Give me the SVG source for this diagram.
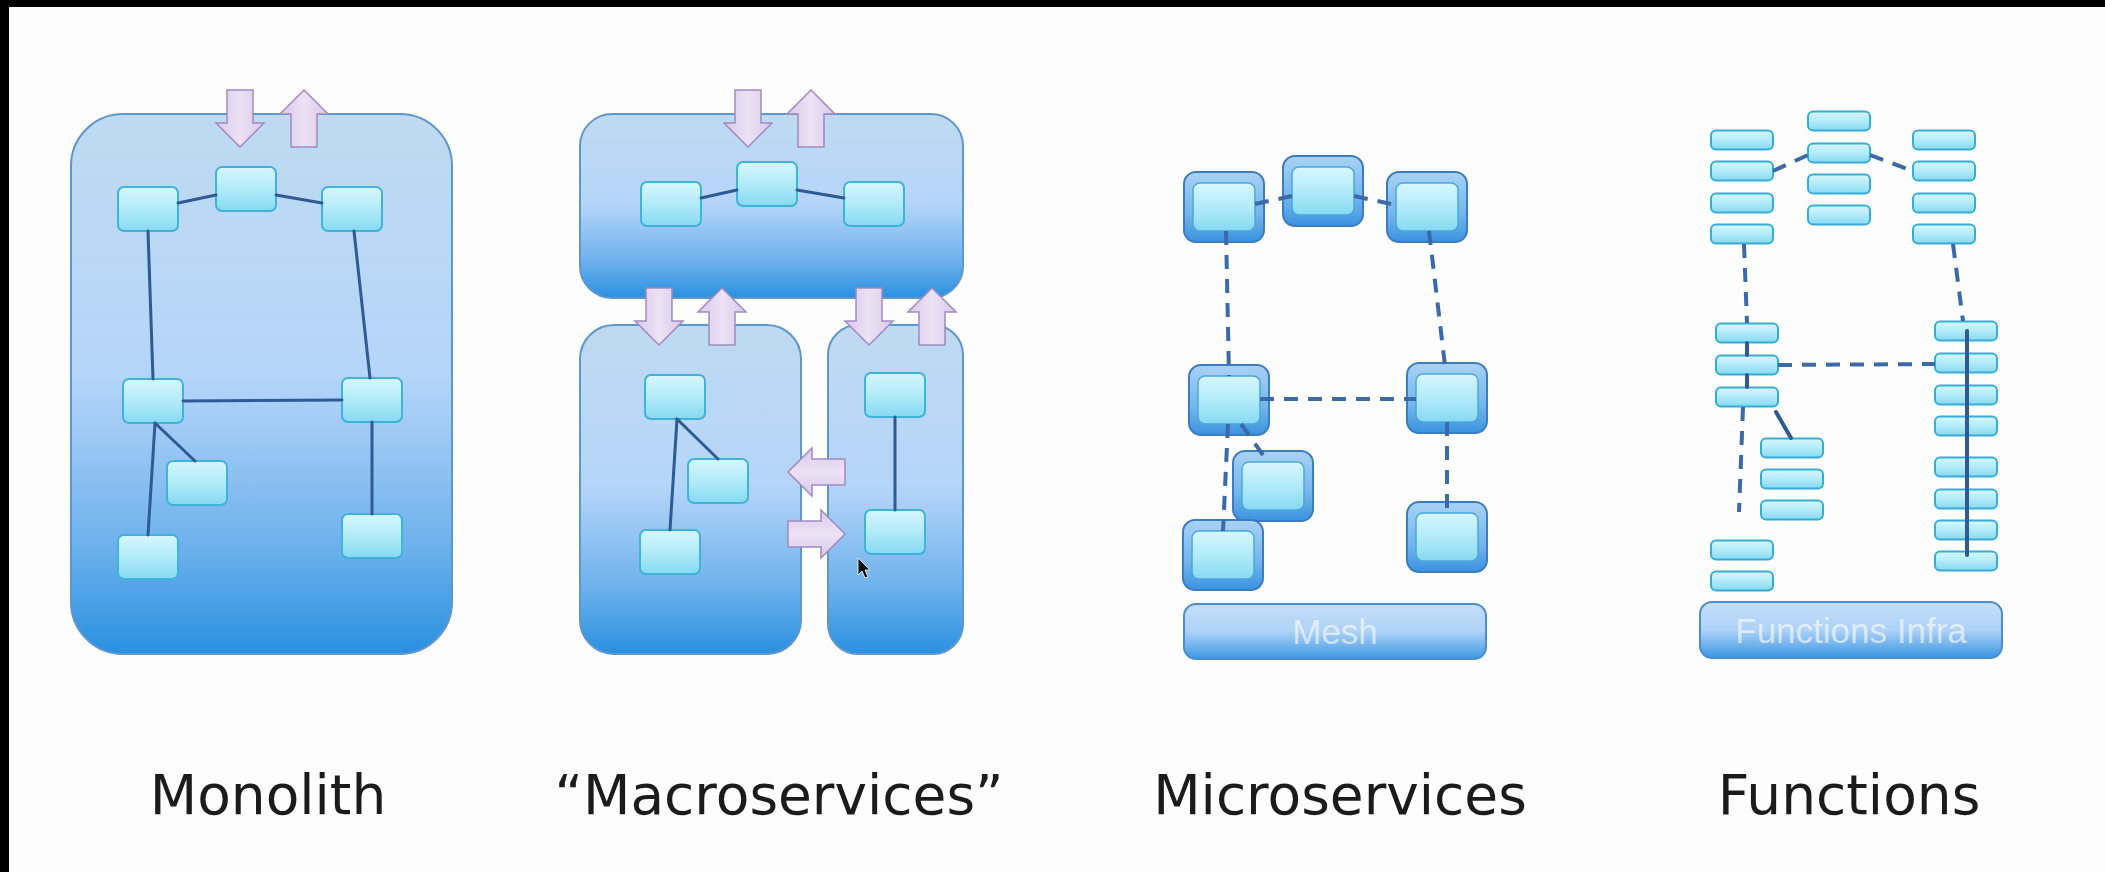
<svg xmlns="http://www.w3.org/2000/svg" xmlns:xlink="http://www.w3.org/1999/xlink" width="2105" height="872" viewBox="0 0 2105 872">
<defs>
  <linearGradient id="gBox" x1="0" y1="0" x2="0" y2="1">
    <stop offset="0" stop-color="#bfdaf1"/>
    <stop offset="0.48" stop-color="#b5d5f9"/>
    <stop offset="0.56" stop-color="#a6cdf6"/>
    <stop offset="0.8" stop-color="#6db1ec"/>
    <stop offset="1" stop-color="#2990e0"/>
  </linearGradient>
  <linearGradient id="gNode" x1="0" y1="0" x2="0" y2="1">
    <stop offset="0" stop-color="#d6f7fd"/>
    <stop offset="0.5" stop-color="#b2ebf9"/>
    <stop offset="1" stop-color="#86d9f2"/>
  </linearGradient>
  <linearGradient id="gOuter" x1="0" y1="0" x2="0" y2="1">
    <stop offset="0" stop-color="#a9d2f4"/>
    <stop offset="0.6" stop-color="#74b5ec"/>
    <stop offset="1" stop-color="#3a92df"/>
  </linearGradient>
  <linearGradient id="gBar" x1="0" y1="0" x2="0" y2="1">
    <stop offset="0" stop-color="#c4def8"/>
    <stop offset="0.5" stop-color="#aed2f8"/>
    <stop offset="1" stop-color="#3a96e2"/>
  </linearGradient>
  <linearGradient id="gArrow" x1="0" y1="0" x2="1" y2="0">
    <stop offset="0" stop-color="#d9c8ea"/>
    <stop offset="0.5" stop-color="#ece2f5"/>
    <stop offset="1" stop-color="#d9c8ea"/>
  </linearGradient>
  <linearGradient id="gArrowH" x1="0" y1="0" x2="0" y2="1">
    <stop offset="0" stop-color="#d9c8ea"/>
    <stop offset="0.5" stop-color="#ece2f5"/>
    <stop offset="1" stop-color="#d9c8ea"/>
  </linearGradient>
  <path id="aDown" d="M-13,0 H13 V33 H24 L0,57 L-24,33 H-13 Z"/>
  <path id="aUp" d="M0,0 L24,24 H13 V57 H-13 V24 H-24 Z"/>
  <path id="aLeft" d="M0,0 L24,-24 V-13 H57 V13 H24 V24 Z"/>
  <path id="aRight" d="M0,-13 H33 V-24 L57,0 L33,24 V13 H0 Z"/>
  <style>
    .box { fill: url(#gBox); stroke: #5f96cc; stroke-width: 2; }
    .node { fill: url(#gNode); stroke: #3fb3da; stroke-width: 2; }
    .outer { fill: url(#gOuter); stroke: #3b7cc2; stroke-width: 2; }
    .inner { fill: url(#gNode); stroke: #4aa8dc; stroke-width: 1.5; }
    .fn { fill: url(#gNode); stroke: #37acd6; stroke-width: 2; }
    .bar { fill: url(#gBar); stroke: #4c8dd0; stroke-width: 2; }
    .bartext { font-family: "Liberation Sans", Arial, sans-serif; font-size: 35px; fill: #ffffff; fill-opacity: 0.6; text-anchor: middle; }
    .arrow { fill: url(#gArrow); stroke: #a08abf; stroke-width: 1.5; }
    .arrowh { fill: url(#gArrowH); stroke: #a08abf; stroke-width: 1.5; }
    .line { stroke: #2f5b95; stroke-width: 3; fill: none; stroke-linecap: round; }
    .dash { stroke: #3b6aab; stroke-width: 4; fill: none; stroke-dasharray: 14 10; }
    .label { font-family: "DejaVu Sans", Verdana, sans-serif; font-size: 55px; fill: #1b1b1b; text-anchor: middle; }
  </style>
</defs>

<rect x="0" y="0" width="2105" height="872" fill="#000000"/>
<rect x="9" y="7" width="2096" height="865" fill="#fdfdfd"/>

<!-- Monolith -->
<g id="monolith-container"><rect class="box" x="71" y="114" width="381" height="540" rx="52"/></g>
<g id="mono-n1"><rect class="node" x="118" y="187" width="60" height="44" rx="6"/></g>
<g id="mono-n2"><rect class="node" x="216" y="167" width="60" height="44" rx="6"/></g>
<g id="mono-n3"><rect class="node" x="322" y="187" width="60" height="44" rx="6"/></g>
<g id="mono-n4"><rect class="node" x="123" y="379" width="60" height="44" rx="6"/></g>
<g id="mono-n5"><rect class="node" x="342" y="378" width="60" height="44" rx="6"/></g>
<g id="mono-n6"><rect class="node" x="167" y="461" width="60" height="44" rx="6"/></g>
<g id="mono-n7"><rect class="node" x="118" y="535" width="60" height="44" rx="6"/></g>
<g id="mono-n8"><rect class="node" x="342" y="514" width="60" height="44" rx="6"/></g>

<!-- Macroservices -->
<g id="macro-top"><rect class="box" x="580" y="114" width="383" height="184" rx="32"/></g>
<g id="macro-left"><rect class="box" x="580" y="325" width="221" height="329" rx="34"/></g>
<g id="macro-right"><rect class="box" x="828" y="325" width="135" height="329" rx="30"/></g>
<g id="macro-t1"><rect class="node" x="641" y="182" width="60" height="44" rx="6"/></g>
<g id="macro-t2"><rect class="node" x="737" y="162" width="60" height="44" rx="6"/></g>
<g id="macro-t3"><rect class="node" x="844" y="182" width="60" height="44" rx="6"/></g>
<g id="macro-l1"><rect class="node" x="645" y="375" width="60" height="44" rx="6"/></g>
<g id="macro-l2"><rect class="node" x="688" y="459" width="60" height="44" rx="6"/></g>
<g id="macro-l3"><rect class="node" x="640" y="530" width="60" height="44" rx="6"/></g>
<g id="macro-r1"><rect class="node" x="865" y="373" width="60" height="44" rx="6"/></g>
<g id="macro-r2"><rect class="node" x="865" y="510" width="60" height="44" rx="6"/></g>

<!-- Microservices -->
<g id="micro-m1"><rect class="outer" x="1184" y="172" width="80" height="70" rx="12"/><rect class="inner" x="1193" y="183" width="62" height="48" rx="7"/></g>
<g id="micro-m2"><rect class="outer" x="1283" y="156" width="80" height="70" rx="12"/><rect class="inner" x="1292" y="167" width="62" height="48" rx="7"/></g>
<g id="micro-m3"><rect class="outer" x="1387" y="172" width="80" height="70" rx="12"/><rect class="inner" x="1396" y="183" width="62" height="48" rx="7"/></g>
<g id="micro-m4"><rect class="outer" x="1189" y="365" width="80" height="70" rx="12"/><rect class="inner" x="1198" y="376" width="62" height="48" rx="7"/></g>
<g id="micro-m5"><rect class="outer" x="1407" y="363" width="80" height="70" rx="12"/><rect class="inner" x="1416" y="374" width="62" height="48" rx="7"/></g>
<g id="micro-m6"><rect class="outer" x="1233" y="451" width="80" height="70" rx="12"/><rect class="inner" x="1242" y="462" width="62" height="48" rx="7"/></g>
<g id="micro-m7"><rect class="outer" x="1183" y="520" width="80" height="70" rx="12"/><rect class="inner" x="1192" y="531" width="62" height="48" rx="7"/></g>
<g id="micro-m8"><rect class="outer" x="1407" y="502" width="80" height="70" rx="12"/><rect class="inner" x="1416" y="513" width="62" height="48" rx="7"/></g>
<g id="mesh"><rect class="bar" x="1184" y="604" width="302" height="55" rx="12"/><text class="bartext" x="1335" y="644">Mesh</text></g>

<!-- Functions -->
<g id="fn-col-left-top">
  <rect class="fn" x="1711" y="130.5" width="62" height="19" rx="5"/>
  <rect class="fn" x="1711" y="161.5" width="62" height="19" rx="5"/>
  <rect class="fn" x="1711" y="193.5" width="62" height="19" rx="5"/>
  <rect class="fn" x="1711" y="224.5" width="62" height="19" rx="5"/>
</g>
<g id="fn-col-mid-top">
  <rect class="fn" x="1808" y="111.5" width="62" height="19" rx="5"/>
  <rect class="fn" x="1808" y="143.5" width="62" height="19" rx="5"/>
  <rect class="fn" x="1808" y="174.5" width="62" height="19" rx="5"/>
  <rect class="fn" x="1808" y="205.5" width="62" height="19" rx="5"/>
</g>
<g id="fn-col-right-top">
  <rect class="fn" x="1913" y="130.5" width="62" height="19" rx="5"/>
  <rect class="fn" x="1913" y="161.5" width="62" height="19" rx="5"/>
  <rect class="fn" x="1913" y="193.5" width="62" height="19" rx="5"/>
  <rect class="fn" x="1913" y="224.5" width="62" height="19" rx="5"/>
</g>
<g id="fn-col-left-mid">
  <rect class="fn" x="1716" y="323.5" width="62" height="19" rx="5"/>
  <rect class="fn" x="1716" y="355.5" width="62" height="19" rx="5"/>
  <rect class="fn" x="1716" y="387.5" width="62" height="19" rx="5"/>
</g>
<g id="fn-col-right-mid">
  <rect class="fn" x="1935" y="321.5" width="62" height="19" rx="5"/>
  <rect class="fn" x="1935" y="353.5" width="62" height="19" rx="5"/>
  <rect class="fn" x="1935" y="385.5" width="62" height="19" rx="5"/>
  <rect class="fn" x="1935" y="416.5" width="62" height="19" rx="5"/>
  <rect class="fn" x="1935" y="457.5" width="62" height="19" rx="5"/>
  <rect class="fn" x="1935" y="489.5" width="62" height="19" rx="5"/>
  <rect class="fn" x="1935" y="520.5" width="62" height="19" rx="5"/>
  <rect class="fn" x="1935" y="551.5" width="62" height="19" rx="5"/>
</g>
<g id="fn-col-small">
  <rect class="fn" x="1761" y="438.5" width="62" height="19" rx="5"/>
  <rect class="fn" x="1761" y="469.5" width="62" height="19" rx="5"/>
  <rect class="fn" x="1761" y="500.5" width="62" height="19" rx="5"/>
</g>
<g id="fn-col-bottom-left">
  <rect class="fn" x="1711" y="540.5" width="62" height="19" rx="5"/>
  <rect class="fn" x="1711" y="571.5" width="62" height="19" rx="5"/>
</g>
<g id="functions-infra"><rect class="bar" x="1700" y="602" width="302" height="56" rx="12"/><text class="bartext" x="1851" y="643">Functions Infra</text></g>

<!-- Connectors -->
<g id="connectors">
  <line class="line" x1="178" y1="203" x2="216" y2="195"/>
  <line class="line" x1="276" y1="195" x2="322" y2="203"/>
  <line class="line" x1="148" y1="231" x2="153" y2="379"/>
  <line class="line" x1="354" y1="231" x2="370" y2="378"/>
  <line class="line" x1="183" y1="401" x2="342" y2="400"/>
  <line class="line" x1="155" y1="423" x2="195" y2="461"/>
  <line class="line" x1="155" y1="423" x2="148" y2="535"/>
  <line class="line" x1="372" y1="422" x2="372" y2="514"/>

  <line class="line" x1="701" y1="198" x2="737" y2="190"/>
  <line class="line" x1="797" y1="190" x2="844" y2="198"/>
  <line class="line" x1="677" y1="419" x2="718" y2="459"/>
  <line class="line" x1="677" y1="419" x2="670" y2="530"/>
  <line class="line" x1="895" y1="417" x2="895" y2="510"/>

  <line class="dash" x1="1255" y1="204" x2="1292" y2="196"/>
  <line class="dash" x1="1354" y1="196" x2="1396" y2="205"/>
  <line class="dash" x1="1226" y1="231" x2="1229" y2="376"/>
  <line class="dash" x1="1429" y1="231" x2="1446" y2="374"/>
  <line class="dash" x1="1260" y1="399" x2="1416" y2="399"/>
  <line class="dash" x1="1241" y1="424" x2="1268" y2="462"/>
  <line class="dash" x1="1228" y1="424" x2="1223" y2="531"/>
  <line class="dash" x1="1447" y1="422" x2="1447" y2="513"/>

  <line class="dash" x1="1773" y1="171" x2="1808" y2="155"/>
  <line class="dash" x1="1870" y1="155" x2="1913" y2="171"/>
  <line class="dash" x1="1744" y1="244" x2="1747" y2="323"/>
  <line class="dash" x1="1953" y1="244" x2="1963" y2="321"/>
  <line class="dash" x1="1778" y1="365" x2="1935" y2="364"/>
  <line class="dash" x1="1743" y1="407" x2="1739" y2="512"/>
  <line class="line" x1="1776" y1="412" x2="1791" y2="438" style="stroke-width:4"/>
  <line class="line" x1="1747" y1="343" x2="1747" y2="355" style="stroke-width:4"/>
  <line class="line" x1="1747" y1="375" x2="1747" y2="387" style="stroke-width:4"/>
  <line class="line" x1="1967" y1="331" x2="1967" y2="555" style="stroke-width:4"/>
</g>

<!-- Interface arrows -->
<g id="arrows">
  <use href="#aDown" class="arrow" transform="translate(240,90)"/>
  <use href="#aUp" class="arrow" transform="translate(304,90)"/>
  <use href="#aDown" class="arrow" transform="translate(748,90)"/>
  <use href="#aUp" class="arrow" transform="translate(811,90)"/>
  <use href="#aDown" class="arrow" transform="translate(659,288)"/>
  <use href="#aUp" class="arrow" transform="translate(722,288)"/>
  <use href="#aDown" class="arrow" transform="translate(869,288)"/>
  <use href="#aUp" class="arrow" transform="translate(932,288)"/>
  <use href="#aLeft" class="arrowh" transform="translate(788,472)"/>
  <use href="#aRight" class="arrowh" transform="translate(788,534)"/>
</g>

<g id="cursor"><path d="M858,558 V575 L862,571 L865,578 L868,577 L865,570 H870 Z" fill="#111" stroke="#fff" stroke-width="0.8"/></g>

<!-- Labels -->
<g id="labels">
  <text class="label" x="268" y="814">Monolith</text>
  <text class="label" x="779" y="814">“Macroservices”</text>
  <text class="label" x="1340" y="814">Microservices</text>
  <text class="label" x="1849" y="814">Functions</text>
</g>
</svg>
